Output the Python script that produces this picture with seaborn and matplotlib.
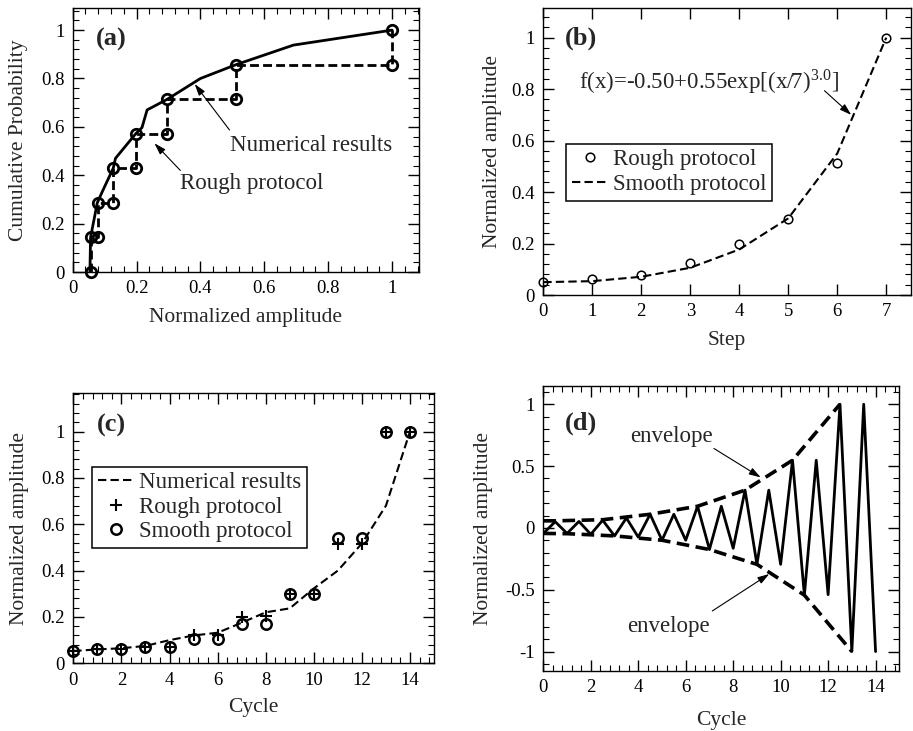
import matplotlib
matplotlib.use("Agg")
import matplotlib.pyplot as plt
from matplotlib import ticker
import seaborn as sns

# ---- panel (a): cumulative probability ----
num_amp_a = [0.054, 0.056, 0.077, 0.093, 0.127, 0.134, 0.197, 0.217, 0.233, 0.296, 0.400, 0.511, 0.691, 1.0]
num_prob_a = [0.0, 0.143, 0.286, 0.333, 0.429, 0.470, 0.571, 0.597, 0.670, 0.714, 0.800, 0.857, 0.938, 1.0]
rough_amp_a = [0.056, 0.056, 0.079, 0.079, 0.125, 0.125, 0.197, 0.197, 0.296, 0.296, 0.511, 0.511, 1.0, 1.0]
rough_prob_a = [0.0, 0.143, 0.143, 0.286, 0.286, 0.429, 0.429, 0.571, 0.571, 0.714, 0.714, 0.857, 0.857, 1.0]

# ---- panel (b): amplitude per step ----
steps_b = [0, 1, 2, 3, 4, 5, 6, 7]
rough_b = [0.049, 0.061, 0.078, 0.126, 0.200, 0.294, 0.512, 1.0]
smooth_b = [0.050, 0.054, 0.071, 0.106, 0.177, 0.298, 0.550, 1.0]

# ---- panel (c): amplitude per cycle ----
cycles_c = [0, 1, 2, 3, 4, 5, 6, 7, 8, 9, 10, 11, 12, 13, 14]
num_c = [0.053, 0.060, 0.065, 0.075, 0.100, 0.120, 0.132, 0.175, 0.220, 0.237, 0.323, 0.400, 0.517, 0.680, 1.0]
rough_c = [0.053, 0.060, 0.060, 0.072, 0.072, 0.120, 0.120, 0.200, 0.205, 0.300, 0.300, 0.515, 0.515, 1.0, 1.0]
smooth_c = [0.053, 0.060, 0.060, 0.072, 0.072, 0.103, 0.103, 0.170, 0.170, 0.300, 0.300, 0.540, 0.540, 1.0, 1.0]

# ---- panel (d): loading history + envelopes ----
zig_x = [0, 0.5, 1, 1.5, 2, 2.5, 3, 3.5, 4, 4.5, 5, 5.5, 6, 6.5, 7,
         7.5, 8, 8.5, 9, 9.5, 10, 10.5, 11, 11.5, 12, 12.5, 13, 13.5, 14]
zig_y = [-0.045, 0.050, -0.045, 0.052, -0.052, 0.062, -0.065, 0.080, -0.075, 0.110, -0.100, 0.110, -0.100, 0.175, -0.175,
         0.175, -0.165, 0.305, -0.295, 0.305, -0.295, 0.547, -0.544, 0.547, -0.540, 1.0, -1.0, 1.0, -1.0]
env_up_x = [0, 0.5, 2.5, 4.5, 6.5, 8.5, 10.5, 12.5]
env_up_y = [0.057, 0.057, 0.066, 0.110, 0.175, 0.305, 0.547, 1.0]
env_lo_x = [0, 1, 3, 5, 7, 9, 11, 13]
env_lo_y = [-0.045, -0.047, -0.065, -0.100, -0.175, -0.295, -0.544, -1.0]

sns.set_style("ticks")
plt.rcParams["font.family"] = ["Liberation Serif", "DejaVu Serif"]
plt.rcParams["mathtext.fontset"] = "stix"
plt.rcParams["axes.unicode_minus"] = False
plt.rcParams["axes.edgecolor"] = "black"
plt.rcParams["axes.linewidth"] = 1.0

TICK_FS = 13.5
LABEL_FS = 15.5
TEXT_FS = 16.5
TAG_FS = 19

fig = plt.figure(figsize=(9.13, 7.31), dpi=100)
ax_a = fig.add_axes([0.0796, 0.6279, 0.3796, 0.3607])
ax_b = fig.add_axes([0.5951, 0.5964, 0.4024, 0.3922])
ax_c = fig.add_axes([0.0803, 0.0926, 0.3951, 0.3694])
ax_d = fig.add_axes([0.5951, 0.0825, 0.3899, 0.3899])


def style_axis(ax, xmaj, xmin, ymaj, ymin):
    ax.xaxis.set_major_locator(ticker.MultipleLocator(xmaj))
    ax.yaxis.set_major_locator(ticker.MultipleLocator(ymaj))
    if xmin:
        ax.xaxis.set_minor_locator(ticker.MultipleLocator(xmin))
    if ymin:
        ax.yaxis.set_minor_locator(ticker.MultipleLocator(ymin))
    ax.xaxis.set_major_formatter(ticker.FormatStrFormatter("%g"))
    ax.yaxis.set_major_formatter(ticker.FormatStrFormatter("%g"))
    ax.tick_params(which="both", direction="in", top=True, right=True, colors="black")
    ax.tick_params(which="major", length=8, width=1, labelsize=TICK_FS, pad=6)
    ax.tick_params(which="minor", length=4.5, width=0.8)
    for s in ax.spines.values():
        s.set_visible(True)
        s.set_color("black")


def arrow(ax, tail, head):
    ax.annotate("", xy=head, xytext=tail,
                arrowprops=dict(arrowstyle="-|>,head_length=0.7,head_width=0.22",
                                color="black", lw=0.8, shrinkA=0, shrinkB=0))


# (a)
sns.lineplot(x=num_amp_a, y=num_prob_a, ax=ax_a, sort=False, estimator=None,
             color="black", linewidth=2)
sns.lineplot(x=rough_amp_a, y=rough_prob_a, ax=ax_a, sort=False, estimator=None,
             color="black", linewidth=2, linestyle=(0, (3.2, 1.5)),
             marker="o", markersize=7.5, markerfacecolor="none",
             markeredgecolor="black", markeredgewidth=2, clip_on=False, zorder=3)
ax_a.set_xlim(0, 1.085)
ax_a.set_ylim(0, 1.09)
style_axis(ax_a, 0.2, 0.04, 0.2, 0.04)
ax_a.set_xlabel("Normalized amplitude", fontsize=LABEL_FS, labelpad=8)
ax_a.set_ylabel("Cumulative Probability", fontsize=LABEL_FS, labelpad=9)
ax_a.text(0.072, 0.961, "(a)", fontsize=TAG_FS, fontweight="bold", va="center")
ax_a.text(0.493, 0.525, "Numerical results", fontsize=TEXT_FS, va="center")
arrow(ax_a, (0.491, 0.587), (0.382, 0.777))
ax_a.text(0.337, 0.365, "Rough protocol", fontsize=TEXT_FS, va="center")
arrow(ax_a, (0.337, 0.42), (0.256, 0.532))

# (b)
sns.lineplot(x=steps_b, y=smooth_b, ax=ax_b, sort=False, estimator=None,
             color="black", linewidth=1.5, linestyle=(0, (4, 2)), label="Smooth protocol")
sns.lineplot(x=steps_b, y=rough_b, ax=ax_b, sort=False, estimator=None,
             color="black", linestyle="none", marker="o", markersize=6.2,
             markerfacecolor="none", markeredgecolor="black", markeredgewidth=1.1,
             label="Rough protocol", clip_on=False, zorder=3)
ax_b.set_xlim(0, 7.5)
ax_b.set_ylim(0, 1.114)
style_axis(ax_b, 1, None, 0.2, 0.04)
ax_b.set_xlabel("Step", fontsize=LABEL_FS, labelpad=8)
ax_b.set_ylabel("Normalized amplitude", fontsize=LABEL_FS, labelpad=7)
ax_b.text(0.43, 0.997, "(b)", fontsize=TAG_FS, fontweight="bold", va="center")
ax_b.text(0.735, 0.829, r"f(x)=-0.50+0.55exp[(x/7)$^{\mathregular{3.0}}$]", fontsize=TEXT_FS, va="center")
arrow(ax_b, (5.74, 0.794), (6.285, 0.70))
h, l = ax_b.get_legend_handles_labels()
leg = ax_b.legend(h[::-1], l[::-1], loc="upper left", bbox_to_anchor=(0.062, 0.528),
                  borderaxespad=0, fontsize=TEXT_FS, frameon=True, fancybox=False,
                  edgecolor="black", framealpha=1, handlelength=1.6, handletextpad=0.2,
                  labelspacing=0.15, borderpad=0.25)
leg.get_frame().set_linewidth(1.1)

# (c)
sns.lineplot(x=cycles_c, y=num_c, ax=ax_c, sort=False, estimator=None,
             color="black", linewidth=1.5, linestyle=(0, (4, 2)), label="Numerical results")
sns.lineplot(x=cycles_c, y=rough_c, ax=ax_c, sort=False, estimator=None,
             color="black", linestyle="none", marker="+", markersize=9,
             markeredgecolor="black", markeredgewidth=1.5, label="Rough protocol",
             clip_on=False, zorder=3)
sns.lineplot(x=cycles_c, y=smooth_c, ax=ax_c, sort=False, estimator=None,
             color="black", linestyle="none", marker="o", markersize=7.5,
             markerfacecolor="none", markeredgecolor="black", markeredgewidth=1.8,
             label="Smooth protocol", clip_on=False, zorder=3)
ax_c.set_xlim(0, 15)
ax_c.set_ylim(0, 1.165)
style_axis(ax_c, 2, 0.4, 0.2, 0.04)
ax_c.set_xlabel("Cycle", fontsize=LABEL_FS, labelpad=7)
ax_c.set_ylabel("Normalized amplitude", fontsize=LABEL_FS, labelpad=9)
ax_c.text(0.964, 1.026, "(c)", fontsize=TAG_FS, fontweight="bold", va="center")
leg = ax_c.legend(loc="upper left", bbox_to_anchor=(0.053, 0.728),
                  borderaxespad=0, fontsize=TEXT_FS, frameon=True, fancybox=False,
                  edgecolor="black", framealpha=1, handlelength=1.6, handletextpad=0.2,
                  labelspacing=0.15, borderpad=0.25)
leg.get_frame().set_linewidth(1.1)
leg.set_zorder(5)

# (d)
sns.lineplot(x=zig_x, y=zig_y, ax=ax_d, sort=False, estimator=None,
             color="black", linewidth=2)
sns.lineplot(x=env_up_x, y=env_up_y, ax=ax_d, sort=False, estimator=None,
             color="black", linewidth=2.6, linestyle=(0, (3.5, 1.8)))
sns.lineplot(x=env_lo_x, y=env_lo_y, ax=ax_d, sort=False, estimator=None,
             color="black", linewidth=2.6, linestyle=(0, (3.5, 1.8)))
ax_d.set_xlim(0, 15)
ax_d.set_ylim(-1.155, 1.15)
style_axis(ax_d, 2, 0.4, 0.5, 0.1)
ax_d.set_xlabel("Cycle", fontsize=LABEL_FS, labelpad=11)
ax_d.set_ylabel("Normalized amplitude", fontsize=LABEL_FS, labelpad=9)
ax_d.text(0.916, 0.844, "(d)", fontsize=TAG_FS, fontweight="bold", va="center")
ax_d.text(3.67, 0.736, "envelope", fontsize=TEXT_FS, va="center")
arrow(ax_d, (7.19, 0.642), (9.16, 0.408))
ax_d.text(3.52, -0.798, "envelope", fontsize=TEXT_FS, va="center")
arrow(ax_d, (7.12, -0.672), (9.52, -0.373))

fig.savefig("out.png", dpi=100)
